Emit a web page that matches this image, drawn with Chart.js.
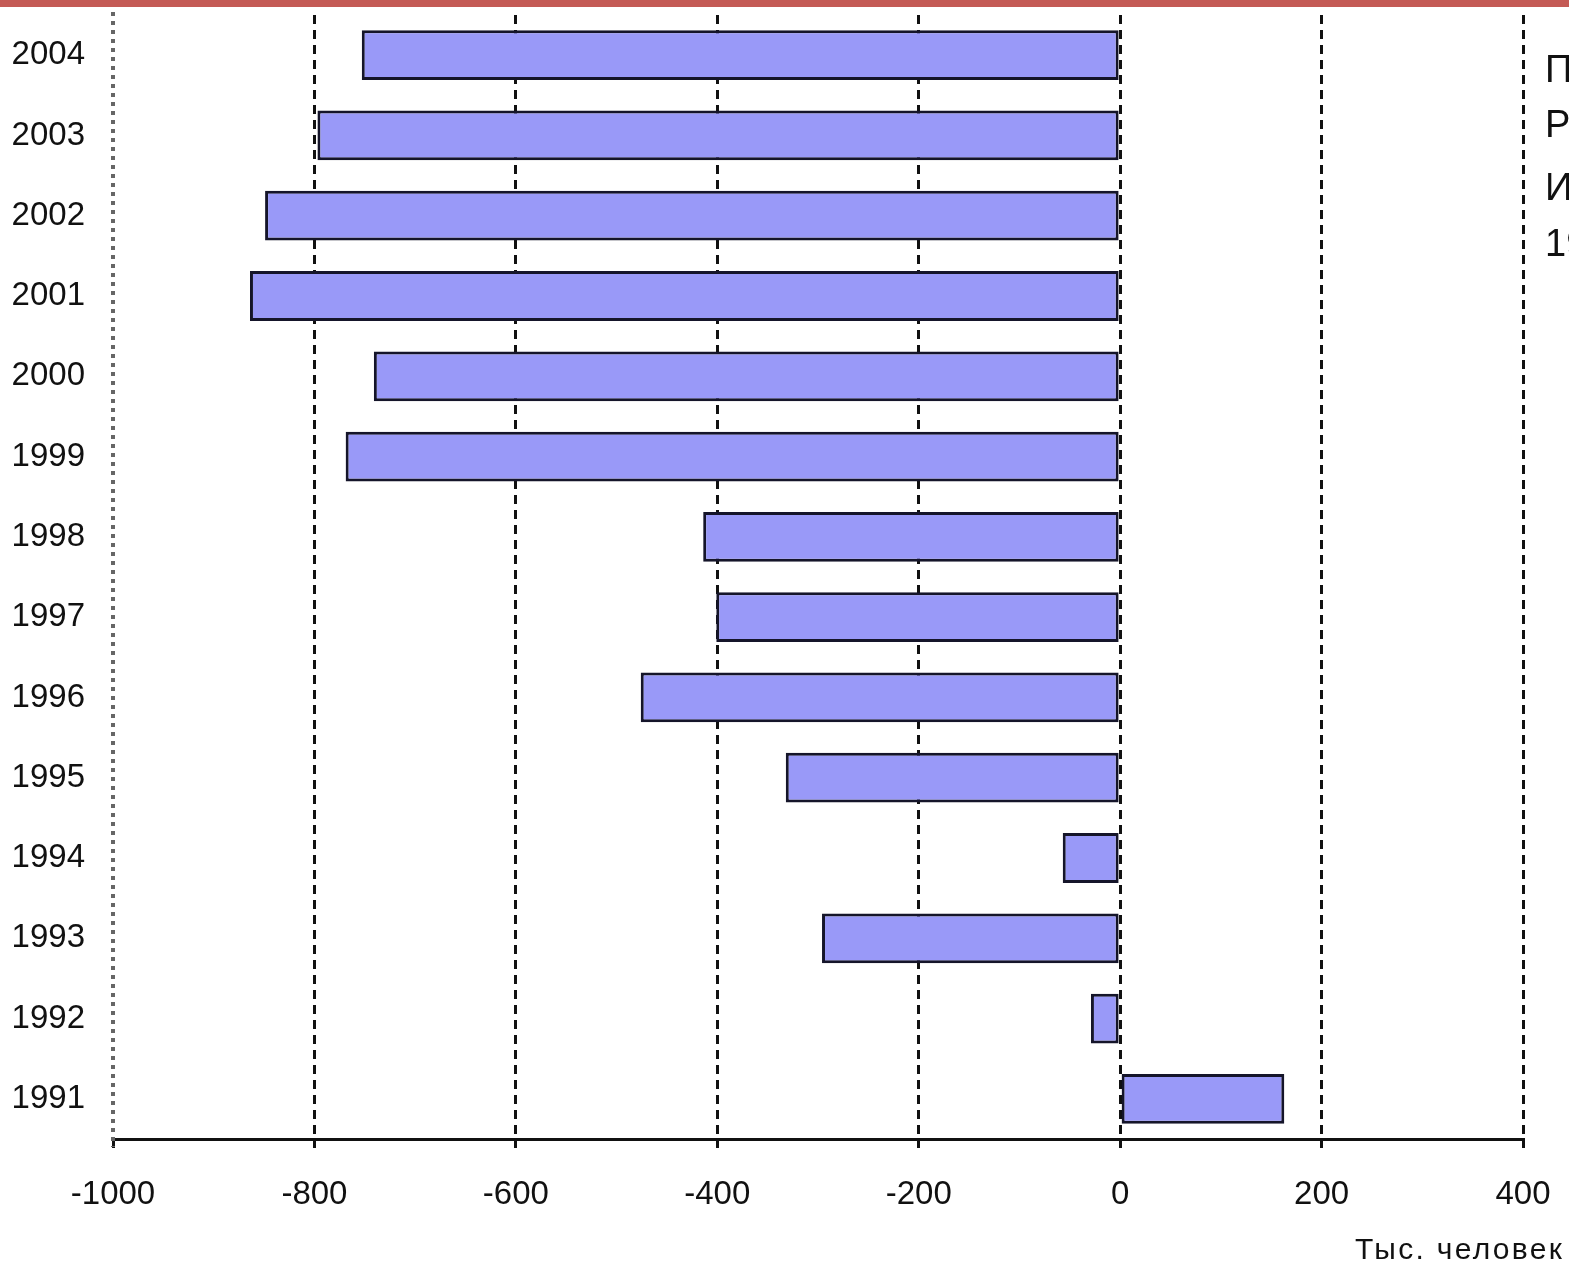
<!DOCTYPE html>
<html>
<head>
<meta charset="utf-8">
<script src="https://cdn.jsdelivr.net/npm/chart.js@4/dist/chart.umd.min.js"></script>
<style>
  html, body { margin: 0; padding: 0; background: #fff; }
  body { width: 1569px; height: 1267px; overflow: hidden; position: relative; font-family: "Liberation Sans", Arial, sans-serif; }
  #topline { position: absolute; left: 0; top: 0; width: 1569px; height: 7px; background: #c45a55; }
  #wrap { position: absolute; left: 0; top: 0; width: 1569px; height: 1267px; }
  .side { position: absolute; left: 1545px; font-size: 38px; color: #111; white-space: nowrap; line-height: 1; }
  #unit { position: absolute; left: 1355px; top: 1232px; font-size: 30px; color: #111; white-space: nowrap; letter-spacing: 2.3px; }
</style>
</head>
<body>
<div id="wrap"><canvas id="migrChart" width="1569" height="1267"></canvas></div>
<div id="topline"></div>
<div class="side" style="top:50px">Прирост населения</div>
<div class="side" style="top:105px">России за счет</div>
<div class="side" style="top:168px">Иммиграции</div>
<div class="side" style="top:224px">1991-2004</div>
<div id="unit">Тыс. человек</div>
<script>
let years = ["2004", "2003", "2002", "2001", "2000", "1999", "1998", "1997", "1996", "1995", "1994", "1993", "1992", "1991"];
let migration = [-753, -797, -849, -864, -741, -769, -414, -401, -476, -332, -57, -296, -29, 163];

let x_min = -1000;
let x_max = 400;
let x_step = 200;

// dotted grey line on the left edge (value -1000)
const leftLine = {
  id: "leftLine",
  afterDraw(chart) {
    const ctx = chart.ctx;
    const x = chart.scales.x.getPixelForValue(x_min);
    ctx.save();
    ctx.strokeStyle = "#666";
    ctx.lineWidth = 4;
    ctx.setLineDash([4, 5]);
    ctx.beginPath();
    ctx.moveTo(x, chart.chartArea.top - 3);
    ctx.lineTo(x, chart.chartArea.bottom + 8);
    ctx.stroke();
    ctx.restore();
  }
};

new Chart("migrChart", {
  type: "bar",
  data: {
    labels: years,
    datasets: [{
      data: migration,
      backgroundColor: "#9999f8",
      borderColor: "#15152a",
      borderWidth: 3,
      borderSkipped: false,
      categoryPercentage: 0.62,
      barPercentage: 1
    }]
  },
  options: {
    indexAxis: "y",
    responsive: false,
    animation: false,
    layout: { padding: { top: 15, right: 46, left: 0, bottom: 0 } },
    plugins: {
      legend: { display: false },
      tooltip: { enabled: false }
    },
    scales: {
      x: {
        min: x_min,
        max: x_max,
        afterFit(scale) {
          scale.height = 128;
          scale.paddingLeft = 0;
          scale.paddingRight = 0;
        },
        ticks: {
          stepSize: x_step,
          color: "#111",
          padding: 27,
          font: { family: "Liberation Sans", size: 33 },
          callback: v => String(v)
        },
        grid: {
          color: ctx => ctx.tick && ctx.tick.value === x_min ? "rgba(0,0,0,0)" : "#111",
          lineWidth: 3,
          tickLength: 9,
          tickColor: "#111",
          tickWidth: 3
        },
        border: { display: true, color: "#111", width: 3, dash: [9, 6] }
      },
      y: {
        afterFit(scale) {
          scale.width = 113;
          scale.paddingTop = 0;
          scale.paddingBottom = 0;
        },
        ticks: {
          color: "#111",
          padding: 28,
          font: { family: "Liberation Sans", size: 33 }
        },
        grid: { display: false, drawTicks: false },
        border: { display: false }
      }
    }
  },
  plugins: [leftLine]
});
</script>
</body>
</html>
